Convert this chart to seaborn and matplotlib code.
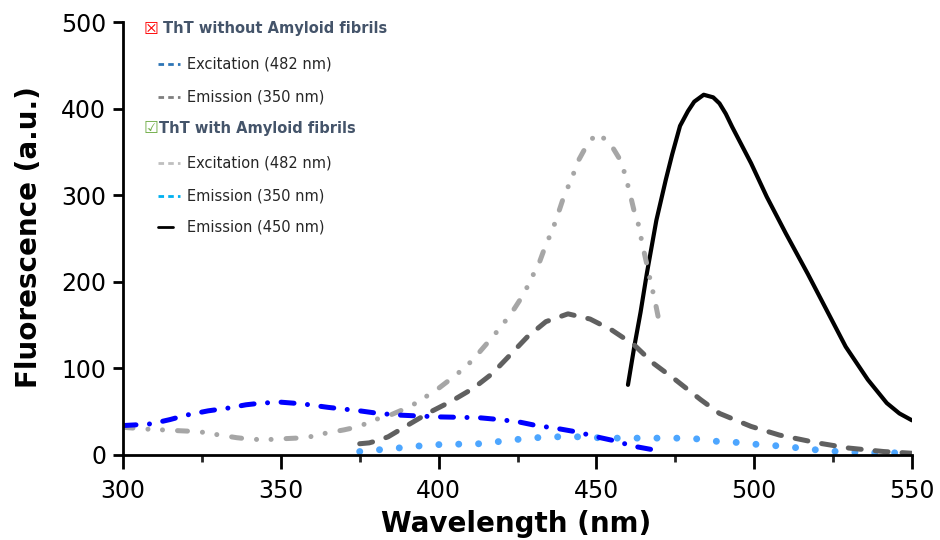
import matplotlib
matplotlib.use("Agg")
import matplotlib.pyplot as plt
from matplotlib.lines import Line2D
from matplotlib.ticker import MultipleLocator
import seaborn as sns

# spectra (wavelength nm, fluorescence a.u.)
wl_ex_free = [300, 305, 309, 315, 320, 327, 333, 339, 344, 350, 357, 365, 375, 381, 388, 394,
              400, 407, 413, 419, 425, 431, 437, 444, 450, 455, 462, 468]
fl_ex_free = [34, 35, 36, 41, 46, 51, 54, 58, 60, 61, 59, 55, 51, 48, 46, 45,
              44, 43.5, 43, 41, 38.5, 34, 31, 26.5, 21, 17, 10, 6]

wl_ex_fib = [300, 307, 318, 324, 329, 336, 341, 347, 352, 358, 364, 370, 375, 379, 384, 391,
             395, 400, 405, 409, 413, 417, 420, 424, 427, 429, 432, 434, 436, 438, 440, 442,
             444, 447, 450, 454, 457.5, 459, 460.5, 462, 463.5, 464.5, 466, 467, 468.5, 469.6]
fl_ex_fib = [32, 30, 28, 27, 24, 20, 18, 18, 19, 20, 25, 29, 33, 40, 45, 56,
             65, 77, 91, 103, 119, 136, 149, 169, 186, 201, 223, 243, 259, 280, 302, 317,
             338, 358, 371, 362, 341, 325, 304, 281, 264, 244, 220, 203, 179, 159]

wl_em_free = [375, 378, 381, 384, 390, 397, 404, 411, 417, 422, 428, 434, 441, 448, 455, 462,
              468, 475, 483, 489, 499, 508, 520, 530, 541, 550]
fl_em_free = [13, 14, 17, 21, 34, 49, 62, 77, 94, 113, 136, 154, 163, 157, 144, 127,
              106, 87, 64, 48, 33, 23, 14, 8, 4, 2]

wl_em350_fib = [375, 381, 387, 394, 400, 406, 413, 419, 425, 431, 437, 444, 450, 456, 462, 469,
                475, 481, 487, 493, 500, 506, 512, 518, 524, 530, 537, 543, 550]
fl_em350_fib = [4, 6, 8, 10.5, 12, 12.5, 13, 15.5, 18, 20, 21, 21, 20, 19.5, 19.5, 19.5,
                19.5, 19, 16, 15, 12.5, 11, 9, 6.5, 4.5, 3.5, 2.5, 2.5, 2.5]

wl_em450_fib = [460, 462, 464, 466, 469, 472, 474, 476.5, 479, 481, 484, 487, 489, 491, 493,
                496, 499, 504, 510, 517, 523, 529, 536, 542, 546, 550]
fl_em450_fib = [81, 125, 165, 210, 271, 318, 347, 380, 397, 408, 416, 413, 406, 394, 379,
                358, 337, 298, 256, 209, 167, 125, 87, 60, 48, 40]

x_ticks = [300, 350, 400, 450, 500, 550]
y_ticks = [0, 100, 200, 300, 400, 500]

sns.set_style("ticks")
plt.rcParams['font.family'] = ['DejaVu Sans']

fig = plt.figure(figsize=(9.4, 5.4), dpi=100)
ax = fig.add_axes([123 / 940, 1 - 455 / 540, 789 / 940, 433 / 540])

common = dict(ax=ax, legend=False, estimator=None, sort=False,
              dash_capstyle='round', solid_capstyle='round')

sns.lineplot(x=wl_em450_fib, y=fl_em450_fib, color='black', lw=3.0, **common)
sns.lineplot(x=wl_em350_fib, y=fl_em350_fib, color='#4da6ff', lw=5.0,
             linestyle=(0, (0.01, 2.85)), **common)
sns.lineplot(x=wl_em_free, y=fl_em_free, color='#606060', lw=3.6,
             linestyle=(0, (2.6, 2.8)), **common)
sns.lineplot(x=wl_ex_fib, y=fl_ex_fib, color='#a6a6a6', lw=3.6,
             linestyle=(0, (2.0, 3.0, 0.01, 2.9, 0.01, 3.0)), **common)
sns.lineplot(x=wl_ex_free, y=fl_ex_free, color='#0000ff', lw=3.6,
             linestyle=(0, (2.6, 2.7, 0.01, 2.7)), **common)

ax.set_xlim(300, 550)
ax.set_ylim(0, 500)
ax.set_xticks(x_ticks)
ax.set_yticks(y_ticks)
ax.xaxis.set_minor_locator(MultipleLocator(25))
ax.tick_params(axis='both', which='major', width=2, length=8, labelsize=17,
               colors='black', direction='out')
ax.tick_params(axis='x', which='major', length=10, pad=7)
ax.tick_params(axis='y', which='major', length=7, pad=5)
ax.tick_params(axis='x', which='minor', width=2, length=5, direction='out')
for side in ['top', 'right']:
    ax.spines[side].set_visible(False)
for side in ['left', 'bottom']:
    ax.spines[side].set_linewidth(2)
    ax.spines[side].set_color('black')
    ax.spines[side].set_zorder(5)

ax.set_xlabel('Wavelength (nm)', fontsize=20, fontweight='bold', color='black')
ax.set_ylabel('Fluorescence (a.u.)', fontsize=20, fontweight='bold', color='black')
ax.xaxis.set_label_coords(0.4987, -0.126)
ax.yaxis.set_label_coords(-0.101, 0.503)

# hand-built legend in the upper left (figure pixel positions)
def fx(px):
    return px / 940

def fy(py):
    return 1 - py / 540

head_color = '#44546a'
fig.text(fx(144), fy(29), '\u2612', color='#ff0000', fontsize=12, va='center', ha='left')
fig.text(fx(163), fy(29), 'ThT without Amyloid fibrils', color=head_color,
         fontsize=10.5, fontweight='bold', va='center', ha='left')
fig.text(fx(144), fy(128), '\u2611', color='#70ad47', fontsize=12, va='center', ha='left')
fig.text(fx(159), fy(128), 'ThT with Amyloid fibrils', color=head_color,
         fontsize=10.5, fontweight='bold', va='center', ha='left')

rows = [
    (64, '#2e75b6', (0, (2, 1.5)), 'Excitation (482 nm)'),
    (97, '#7f7f7f', (0, (2, 1.5)), 'Emission (350 nm)'),
    (163, '#bfbfbf', (0, (2, 1.5)), 'Excitation (482 nm)'),
    (196, '#00b0f0', (0, (2, 1.5)), 'Emission (350 nm)'),
    (227, 'black', '-', 'Emission (450 nm)'),
]
for py, col, ls, label in rows:
    x1 = 173 if ls == '-' else 180
    fig.add_artist(Line2D([fx(158), fx(x1)], [fy(py), fy(py)], color=col, lw=2,
                          linestyle=ls, transform=fig.transFigure))
    fig.text(fx(187), fy(py), label, color='#262626', fontsize=10.5, va='center', ha='left')

fig.savefig('out.png', dpi=100)
